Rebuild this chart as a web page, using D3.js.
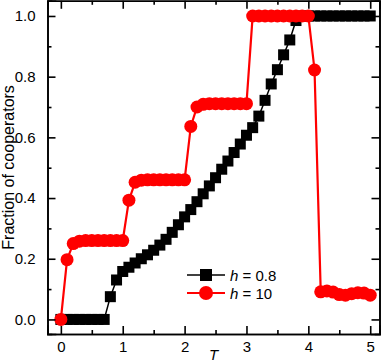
<!DOCTYPE html>
<html>
<head>
<meta charset="utf-8">
<script src="https://cdn.jsdelivr.net/npm/d3@7"></script>
<style>
  html, body { margin: 0; padding: 0; background: #fff; }
  svg { display: block; font-family: "Liberation Sans", Arial, sans-serif; }
</style>
</head>
<body>
<svg id="chart" width="383" height="362"></svg>
<script>
const T_VALUES = [0.0, 0.1, 0.2, 0.3, 0.4, 0.5, 0.6, 0.7, 0.8, 0.9,
  1.0, 1.1, 1.2, 1.3, 1.4, 1.5, 1.6, 1.7, 1.8, 1.9,
  2.0, 2.1, 2.2, 2.3, 2.4, 2.5, 2.6, 2.7, 2.8, 2.9,
  3.0, 3.1, 3.2, 3.3, 3.4, 3.5, 3.6, 3.7, 3.8, 3.9,
  4.0, 4.1, 4.2, 4.3, 4.4, 4.5, 4.6, 4.7, 4.8, 4.9, 5.0];

// h = 0.8 (black squares)
const H08_VALUES = [0, 0, 0, 0, 0, 0, 0, 0, 0.075, 0.13,
  0.158, 0.172, 0.186, 0.2, 0.213, 0.228, 0.245, 0.264, 0.287, 0.312,
  0.338, 0.362, 0.388, 0.414, 0.44, 0.467, 0.495, 0.522, 0.55, 0.578,
  0.607, 0.632, 0.67, 0.722, 0.776, 0.823, 0.872, 0.921, 0.985, 1.0,
  1.0, 1.0, 1.0, 1.0, 1.0, 1.0, 1.0, 1.0, 1.0, 1.0, 1.0];

// h = 10 (red circles)
const H10_VALUES = [0, 0.197, 0.25, 0.258, 0.26, 0.26, 0.26, 0.26, 0.26, 0.26,
  0.26, 0.393, 0.452, 0.459, 0.46, 0.46, 0.46, 0.46, 0.46, 0.46,
  0.46, 0.636, 0.70, 0.709, 0.711, 0.711, 0.711, 0.711, 0.711, 0.711,
  0.711, 1.0, 1.0, 1.0, 1.0, 1.0, 1.0, 1.0, 1.0, 1.0,
  1.0, 0.822, 0.091, 0.094, 0.09, 0.082, 0.08, 0.085, 0.088, 0.087, 0.08];

const X_TICKS = [0, 1, 2, 3, 4, 5];
const X_MINOR = [0.5, 1.5, 2.5, 3.5, 4.5];
const Y_TICKS = [0, 0.2, 0.4, 0.6, 0.8, 1.0];
const Y_MINOR = [0.1, 0.3, 0.5, 0.7, 0.9];

const SERIES = [
  { label: "0.8", values: H08_VALUES, color: "#000000", shape: "square" },
  { label: "10", values: H10_VALUES, color: "#ff0000", shape: "circle" }
];

const plot = { left: 47.5, right: 379.5, top: 0.8, bottom: 334 };

const x = d3.scaleLinear().domain([-0.216, 5.15]).range([plot.left, plot.right]);
const y = d3.scaleLinear().domain([-0.048, 1.05]).range([plot.bottom, plot.top]);

const svg = d3.select("#chart");

// series lines + markers
const line = d3.line().x(d => x(d.t)).y(d => y(d.v));

SERIES.forEach(s => {
  const pts = T_VALUES.map((t, i) => ({ t, v: s.values[i] }));
  const g = svg.append("g");
  g.append("path")
    .datum(pts)
    .attr("fill", "none")
    .attr("stroke", s.color)
    .attr("stroke-width", s.shape === "circle" ? 2.2 : 1.5)
    .attr("d", line);
  if (s.shape === "square") {
    g.selectAll("rect")
      .data(pts)
      .join("rect")
      .attr("x", d => x(d.t) - 5.5)
      .attr("y", d => y(d.v) - 5.5)
      .attr("width", 11)
      .attr("height", 11)
      .attr("fill", s.color);
  } else {
    g.selectAll("circle")
      .data(pts)
      .join("circle")
      .attr("cx", d => x(d.t))
      .attr("cy", d => y(d.v))
      .attr("r", 6.5)
      .attr("fill", s.color);
  }
});

// frame with inward ticks
function styleAxis(g) {
  g.selectAll("path, line").attr("stroke", "#000").attr("stroke-width", 1.6);
  g.selectAll("text").attr("font-size", 15).attr("fill", "#000");
}

svg.append("g")
  .attr("transform", `translate(0,${plot.bottom})`)
  .call(d3.axisBottom(x).tickValues(X_TICKS).tickSize(-8).tickPadding(7).tickFormat(d3.format("d")))
  .call(styleAxis);
svg.append("g")
  .attr("transform", `translate(0,${plot.bottom})`)
  .call(d3.axisBottom(x).tickValues(X_MINOR).tickSize(-4).tickFormat(""))
  .call(styleAxis);

svg.append("g")
  .attr("transform", `translate(0,${plot.top})`)
  .call(d3.axisTop(x).tickValues(X_TICKS).tickSize(-8).tickFormat(""))
  .call(styleAxis);
svg.append("g")
  .attr("transform", `translate(0,${plot.top})`)
  .call(d3.axisTop(x).tickValues(X_MINOR).tickSize(-4).tickFormat(""))
  .call(styleAxis);

svg.append("g")
  .attr("transform", `translate(${plot.left},0)`)
  .call(d3.axisLeft(y).tickValues(Y_TICKS).tickSize(-8).tickPadding(12).tickFormat(d3.format(".1f")))
  .call(styleAxis);
svg.append("g")
  .attr("transform", `translate(${plot.left},0)`)
  .call(d3.axisLeft(y).tickValues(Y_MINOR).tickSize(-4).tickFormat(""))
  .call(styleAxis);

svg.append("g")
  .attr("transform", `translate(${plot.right},0)`)
  .call(d3.axisRight(y).tickValues(Y_TICKS).tickSize(-8).tickFormat(""))
  .call(styleAxis);
svg.append("g")
  .attr("transform", `translate(${plot.right},0)`)
  .call(d3.axisRight(y).tickValues(Y_MINOR).tickSize(-4).tickFormat(""))
  .call(styleAxis);

svg.selectAll(".domain").attr("stroke-linecap", "square");

// axis titles
svg.append("text")
  .attr("transform", `translate(14,${(plot.top + plot.bottom) / 2}) rotate(-90)`)
  .attr("text-anchor", "middle")
  .attr("font-size", 16)
  .text("Fraction of cooperators");

svg.append("text")
  .attr("x", (plot.left + plot.right) / 2)
  .attr("y", 360)
  .attr("text-anchor", "middle")
  .attr("font-size", 15)
  .attr("font-style", "italic")
  .text("T");

// legend
const legend = svg.append("g");
SERIES.forEach((s, i) => {
  const ly = 275 + i * 18;
  legend.append("line")
    .attr("x1", 187).attr("x2", 225)
    .attr("y1", ly).attr("y2", ly)
    .attr("stroke", s.color)
    .attr("stroke-width", s.shape === "circle" ? 2.2 : 1.5);
  if (s.shape === "square") {
    legend.append("rect")
      .attr("x", 206 - 6).attr("y", ly - 6)
      .attr("width", 12).attr("height", 12)
      .attr("fill", s.color);
  } else {
    legend.append("circle")
      .attr("cx", 206).attr("cy", ly).attr("r", 7)
      .attr("fill", s.color);
  }
  const t = legend.append("text")
    .attr("x", 230).attr("y", ly + 5.5)
    .attr("font-size", 15);
  t.append("tspan").attr("font-style", "italic").text("h");
  t.append("tspan").text(" = " + s.label);
});
</script>
</body>
</html>
